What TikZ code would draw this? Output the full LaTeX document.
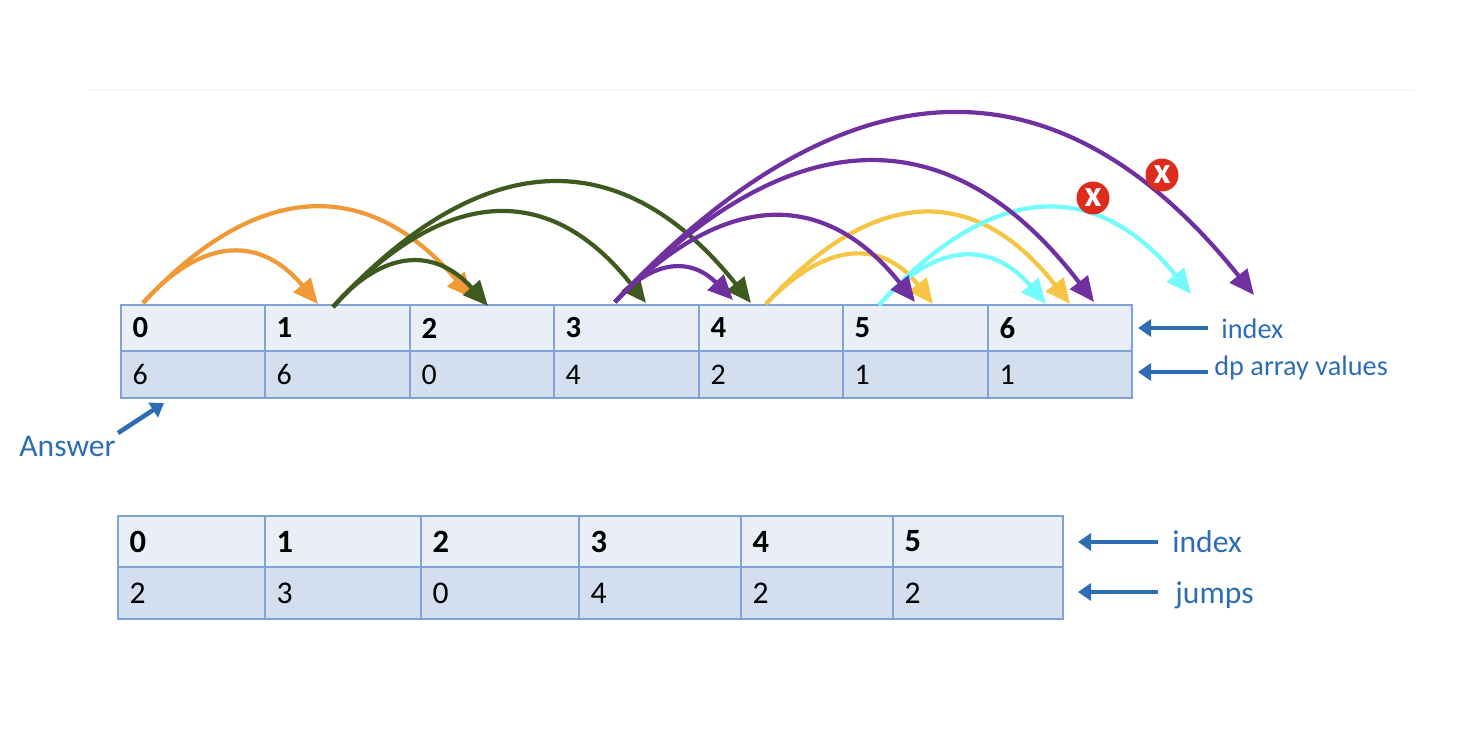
\documentclass[tikz,border=0pt]{standalone}
\usepackage{fontspec}
\setmainfont{Carlito}
\usetikzlibrary{arrows.meta}
\definecolor{cellhead}{HTML}{E9EEF7}
\definecolor{cellval}{HTML}{D3DEEE}
\definecolor{cellline}{HTML}{7FA3D6}
\definecolor{labelblue}{HTML}{2E6DB4}
\definecolor{jumporange}{HTML}{F09A37}
\definecolor{jumpgreen}{HTML}{3F5A1F}
\definecolor{jumppurple}{HTML}{7030A0}
\definecolor{jumpyellow}{HTML}{F7C544}
\definecolor{jumpcyan}{HTML}{73FBFD}
\definecolor{crossred}{HTML}{DD2C1E}
\definecolor{faintline}{HTML}{F9F9F9}
\tikzset{
  cell/.style={draw=cellline,line width=1.1pt,outer sep=0pt,inner xsep=0.23cm,inner ysep=0pt,align=left,anchor=north west,font=\fontsize{17}{18}\selectfont},
  headcell/.style={cell,fill=cellhead,font=\fontsize{17.5}{18}\selectfont\bfseries},
  valcell/.style={cell,fill=cellval},
  jump/.style={line width=2.4pt,-{Triangle[length=0.5cm,width=0.44cm]}},
  bluearrow/.style={draw=labelblue,line width=2.6pt,-{Triangle[length=0.26cm,width=0.34cm]}},
  smalltext/.style={text=labelblue,font=\fontsize{16.1}{18}\selectfont},
  bigtext/.style={text=labelblue,font=\fontsize{18}{20}\selectfont},
  cross/.style={circle,fill=crossred,text=white,inner sep=0pt,minimum size=0.66cm,font=\fontsize{21}{21}\selectfont\bfseries}
}
\begin{document}
\begin{tikzpicture}[x=0.02cm,y=-0.02cm]
  \useasboundingbox (0,0) rectangle (1460,746);

  % Faint rule at the top
  \coordinate (fa) at (88,90);
  \coordinate (fb) at (1415,90);
  \draw[faintline,line width=1pt] (fa) -- (fb);

  % dp table
  \foreach \name/\xa/\xb/\ind/\val in {0/121/265/0/6,1/265/410/1/6,2/410/554/2/0,3/554/699/3/4,4/699/843/4/2,5/843/988/5/1,6/988/1132/6/1}{
    \pgfmathsetlengthmacro{\cw}{(\xb-\xa)*0.02cm}
    \pgfmathsetlengthmacro{\tw}{\cw-0.46cm}
    \node[headcell,minimum width=\cw,minimum height=0.92cm,text width=\tw] (h\name) at (\xa,305) {\ind};
    \node[valcell,minimum width=\cw,minimum height=0.94cm,text width=\tw] (v\name) at (\xa,351) {\val};
  }

  % jumps table
  \foreach \name/\xa/\xb/\ind/\val in {0/118/265/0/2,1/265/421/1/3,2/421/579/2/0,3/579/741/3/4,4/741/893/4/2,5/893/1063/5/2}{
    \pgfmathsetlengthmacro{\cw}{(\xb-\xa)*0.02cm}
    \pgfmathsetlengthmacro{\tw}{\cw-0.46cm}
    \node[headcell,font=\fontsize{18.5}{18}\selectfont\bfseries,minimum width=\cw,minimum height=1.02cm,text width=\tw] (p\name) at (\xa,516) {\ind};
    \node[valcell,font=\fontsize{18}{18}\selectfont,minimum width=\cw,minimum height=1.04cm,text width=\tw] (q\name) at (\xa,567) {\val};
  }

  % Labels
  \node[smalltext,anchor=west,inner sep=0pt] (indexa) at (1221,329) {index};
  \node[smalltext,anchor=west,inner sep=0pt] (dpvals) at (1214,368) {dp array values};
  \node[bigtext,anchor=west,inner sep=0pt] (answer) at (19,446) {Answer};
  \node[bigtext,anchor=west,inner sep=0pt] (indexb) at (1172,542) {index};
  \node[bigtext,anchor=west,inner sep=0pt] (jumps) at (1175,595) {jumps};

  % Blue arrows
  \coordinate (ia) at (1208,328);
  \coordinate (ib) at (1138,328);
  \coordinate (da) at (1208,372);
  \coordinate (db) at (1138,372);
  \coordinate (aa) at (118,433);
  \coordinate (ab) at (164,403);
  \coordinate (ka) at (1158,542);
  \coordinate (kb) at (1078,542);
  \coordinate (ja) at (1158,592);
  \coordinate (jb) at (1078,592);
  \draw[bluearrow] (ia) -- (ib);
  \draw[bluearrow] (da) -- (db);
  \draw[bluearrow] (aa) -- (ab);
  \draw[bluearrow] (ka) -- (kb);
  \draw[bluearrow] (ja) -- (jb);

  % Orange jumps
  \coordinate (o0) at (143,303);
  \coordinate (o1) at (318,304);
  \coordinate (o2) at (472,298);
  \draw[jump,jumporange] (o0) .. controls (203,236) and (261,236) .. (o1);
  \draw[jump,jumporange] (o0) .. controls (259,178) and (369,178) .. (o2);

  % Green jumps
  \coordinate (g0) at (333,307);
  \coordinate (g1) at (488,306);
  \coordinate (g2) at (646,303);
  \coordinate (g3) at (751,303);
  \draw[jump,jumpgreen] (g0) .. controls (384,248) and (436,248) .. (g1);
  \draw[jump,jumpgreen] (g0) .. controls (447,183) and (551,183) .. (g2);
  \draw[jump,jumpgreen] (g0) .. controls (484,143) and (623,143) .. (g3);

  % Yellow jumps
  \coordinate (y0) at (766,304);
  \coordinate (y1) at (933,304);
  \coordinate (y2) at (1070,304);
  \draw[jump,jumpyellow] (y0) .. controls (827,240) and (883,240) .. (y1);
  \draw[jump,jumpyellow] (y0) .. controls (875,184) and (976,184) .. (y2);

  % Cyan jumps
  \coordinate (c0) at (879,305);
  \coordinate (c1) at (1046,304);
  \coordinate (c2) at (1191,294);
  \draw[jump,jumpcyan] (c0) .. controls (936,241) and (992,241) .. (c1);
  \draw[jump,jumpcyan] (c0) .. controls (993,179) and (1097,179) .. (c2);

  % Purple jumps
  \coordinate (u0) at (615,302);
  \coordinate (u1) at (733,300);
  \coordinate (u2) at (915,302);
  \coordinate (u3) at (1094,302);
  \coordinate (u4) at (1254,295);
  \draw[jump,jumppurple] (u0) .. controls (653,258) and (692,258) .. (u1);
  \draw[jump,jumppurple] (u0) .. controls (725,189) and (825,189) .. (u2);
  \draw[jump,jumppurple] (u0) .. controls (792,116) and (952,116) .. (u3);
  \draw[jump,jumppurple] (u0) .. controls (848,53) and (1060,53) .. (u4);

  % Rejected jumps
  \node[cross] (crossa) at (1093,198) {x};
  \node[cross] (crossb) at (1162,175) {x};
\end{tikzpicture}
\end{document}
